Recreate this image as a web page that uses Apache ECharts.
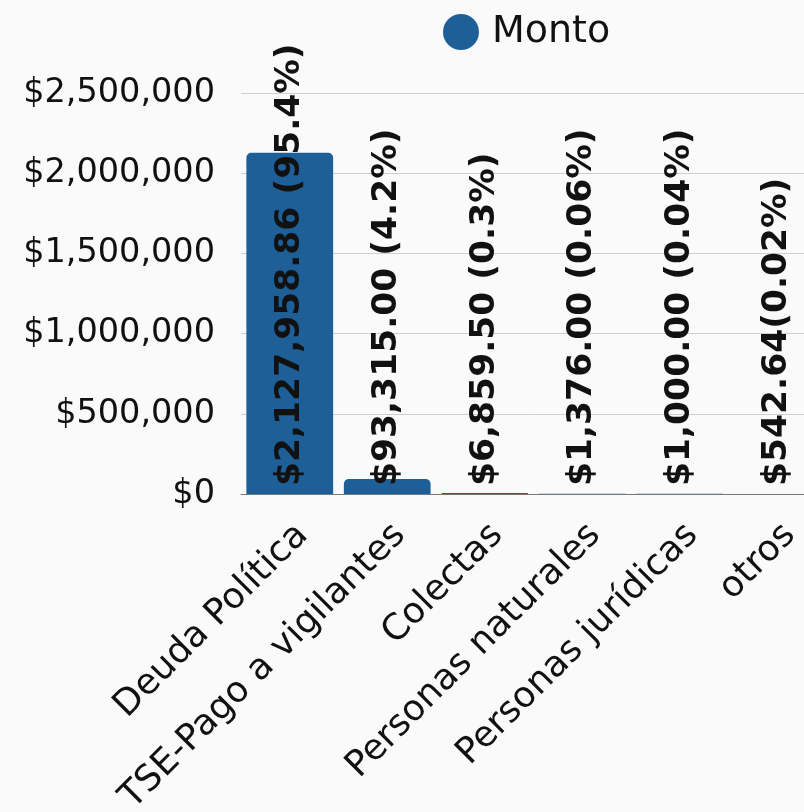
<!DOCTYPE html>
<html>
<head>
<meta charset="utf-8">
<script src="https://cdn.jsdelivr.net/npm/echarts@6/dist/echarts.min.js"></script>
<style>
  html, body { margin: 0; padding: 0; background: #fafafa; overflow: hidden; }
  #main { width: 830px; height: 812px; }
</style>
</head>
<body>
<div id="main"></div>
<script>
// categorias y montos
const categorias = ['Deuda Política', 'TSE-Pago a vigilantes', 'Colectas', 'Personas naturales', 'Personas jurídicas', 'otros'];
const montos = [2127958.86, 93315.00, 6859.50, 1376.00, 1000.00, 542.64];
const etiquetas = ['$2,127,958.86 (95.4%)', '$93,315.00 (4.2%)', '$6,859.50 (0.3%)', '$1,376.00 (0.06%)', '$1,000.00 (0.04%)', '$542.64(0.02%)'];

const chart = echarts.init(document.getElementById('main'));

const option = {
  backgroundColor: '#fafafa',
  legend: {
    data: ['Monto'],
    left: 438,
    top: 8,
    icon: 'circle',
    itemWidth: 36,
    itemHeight: 36,
    itemGap: 12,
    textStyle: { fontFamily: 'DejaVu Sans', fontSize: 38, color: '#111', padding: [0, 0, 0, 8] }
  },
  grid: {
    left: 241,
    right: 4,
    top: 93,
    bottom: 318,
    outerBoundsMode: 'none',
    containLabel: false
  },
  xAxis: {
    type: 'category',
    data: categorias,
    axisTick: { show: false },
    axisLine: { lineStyle: { color: '#777', width: 1 } },
    axisLabel: {
      rotate: 45,
      interval: 0,
      margin: 23,
      verticalAlign: 'top',
      fontFamily: 'DejaVu Sans',
      fontSize: 36,
      color: '#111'
    }
  },
  yAxis: {
    type: 'value',
    min: 0,
    max: 2500000,
    interval: 500000,
    axisLine: { show: false },
    axisTick: { show: false },
    splitLine: { lineStyle: { color: '#cfcfcf', width: 1 } },
    axisLabel: {
      margin: 26,
      fontFamily: 'DejaVu Sans',
      fontSize: 33.5,
      color: '#111',
      formatter: function (v) { return '$' + v.toLocaleString('en-US'); }
    }
  },
  series: [
    {
      name: 'Monto',
      type: 'bar',
      data: montos,
      barCategoryGap: '11%',
      itemStyle: { color: '#1e5f97', borderRadius: [5, 5, 0, 0] },
      label: {
        show: true,
        position: 'insideBottom',
        rotate: 90,
        align: 'left',
        verticalAlign: 'middle',
        distance: 8,
        fontFamily: 'DejaVu Sans',
        fontWeight: 'bold',
        fontSize: 34.5,
        color: '#111',
        formatter: function (p) { return etiquetas[p.dataIndex]; }
      }
    }
  ]
};

chart.setOption(option);
</script>
</body>
</html>
